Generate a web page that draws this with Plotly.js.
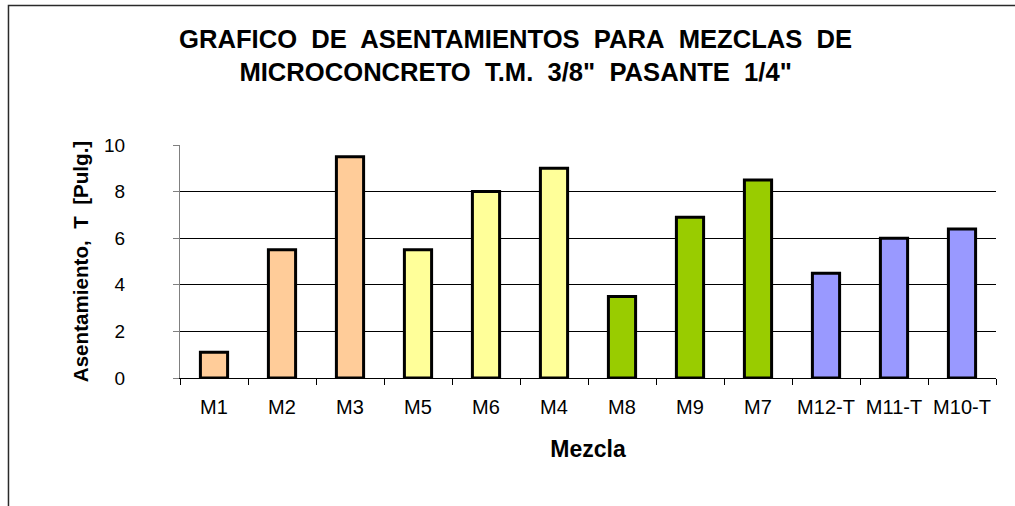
<!DOCTYPE html>
<html>
<head>
<meta charset="utf-8">
<script src="https://cdn.plot.ly/plotly-3.0.1.min.js"></script>
<style>
  html, body { margin: 0; padding: 0; background: #fff; }
  #chart { width: 1015px; height: 506px; }
</style>
</head>
<body>
<div id="chart"></div>
<script>
// Mezclas y asentamientos medidos (pulgadas)
const mezclas = ['M1', 'M2', 'M3', 'M5', 'M6', 'M4', 'M8', 'M9', 'M7', 'M12-T', 'M11-T', 'M10-T'];
const asentamientos = [1.1, 5.5, 9.5, 5.5, 8.0, 9.0, 3.5, 6.9, 8.5, 4.5, 6.0, 6.4];
// Color de relleno por grupo de mezclas
const coloresBarras = ['#FFCC99', '#FFCC99', '#FFCC99',
                       '#FFFF99', '#FFFF99', '#FFFF99',
                       '#99CC00', '#99CC00', '#99CC00',
                       '#9999FF', '#9999FF', '#9999FF'];
const marcasY = [0, 2, 4, 6, 8, 10];
const lineasGuia = [2, 4, 6, 8];

const FONT = 'Arial, "Liberation Sans", sans-serif';
const sp = '\u00a0 ';

const barras = {
  type: 'bar',
  x: mezclas,
  y: asentamientos,
  width: 0.4,
  marker: {
    color: coloresBarras,
    line: { color: '#000000', width: 3 }
  },
  hoverinfo: 'x+y'
};

// Traza vacía que activa el eje superpuesto de las líneas guía
const ejeGuia = {
  type: 'scatter',
  x: [],
  y: [],
  yaxis: 'y2',
  hoverinfo: 'skip',
  showlegend: false
};

const layout = {
  width: 1015,
  height: 506,
  paper_bgcolor: '#ffffff',
  plot_bgcolor: 'rgba(0,0,0,0)',
  showlegend: false,
  margin: { l: 180, r: 19, t: 145, b: 128 },
  title: {
    text: 'GRAFICO' + sp + 'DE' + sp + 'ASENTAMIENTOS' + sp + 'PARA' + sp + 'MEZCLAS' + sp + 'DE<br>' +
          'MICROCONCRETO' + sp + 'T.M.' + sp + '3/8"' + sp + 'PASANTE' + sp + '1/4"',
    font: { family: FONT, size: 25.6, color: '#000000', weight: 'bold' },
    xref: 'container', x: 0.508, xanchor: 'center',
    yref: 'container', y: 0.906, yanchor: 'top'
  },
  xaxis: {
    type: 'category',
    range: [-0.5, 11.5],
    tickson: 'boundaries',
    ticks: 'outside',
    ticklen: 6,
    tickcolor: '#000000',
    showline: true,
    linecolor: '#000000',
    linewidth: 1,
    showgrid: false,
    zeroline: false,
    tickfont: { family: FONT, size: 20, color: '#000000' },
    ticklabelstandoff: 11,
    title: {
      text: 'Mezcla',
      font: { family: FONT, size: 23, color: '#000000', weight: 'bold' },
      standoff: 23
    },
    fixedrange: true
  },
  yaxis: {
    range: [0, 10],
    tickvals: marcasY,
    ticks: 'outside',
    ticklen: 6,
    tickcolor: '#808080',
    showline: true,
    linecolor: '#808080',
    linewidth: 1,
    showgrid: false,
    zeroline: false,
    tickfont: { family: FONT, size: 19, color: '#000000' },
    ticklabelstandoff: 44,
    title: {
      text: 'Asentamiento,' + sp + 'T' + sp + '[Pulg.]',
      font: { family: FONT, size: 20.6, color: '#000000', weight: 'bold' },
      standoff: 9
    },
    fixedrange: true
  },
  yaxis2: {
    overlaying: 'y',
    side: 'left',
    range: [0, 10],
    tickvals: lineasGuia,
    showticklabels: false,
    ticks: '',
    showline: false,
    zeroline: false,
    showgrid: true,
    gridcolor: '#000000',
    gridwidth: 1,
    fixedrange: true
  },
  shapes: [{
    type: 'rect',
    xref: 'paper', yref: 'paper',
    x0: -0.2102, x1: 1.06,
    y0: -0.6, y1: 1.5987,
    line: { color: '#2a2a2a', width: 1.5 },
    fillcolor: 'rgba(0,0,0,0)',
    layer: 'below'
  }]
};

Plotly.newPlot('chart', [barras, ejeGuia], layout, { displayModeBar: false, staticPlot: true });
</script>
</body>
</html>
